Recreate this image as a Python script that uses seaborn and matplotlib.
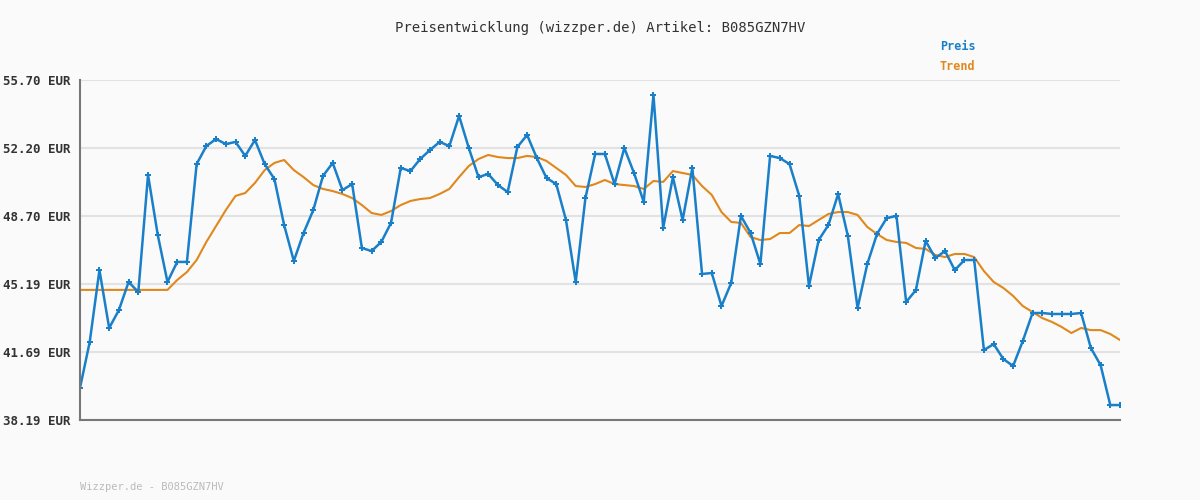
import matplotlib
matplotlib.use("Agg")
import matplotlib.pyplot as plt
import numpy as np
import pandas as pd
import seaborn as sns

# Price history (EUR)
preis = [
    39.84, 42.21, 45.91, 42.93, 43.85, 45.30, 44.78, 50.81, 47.72, 45.30,
    46.33, 46.33, 51.37, 52.30, 52.66, 52.40, 52.51, 51.79, 52.61, 51.37,
    50.60, 48.23, 46.38, 47.82, 49.00, 50.76, 51.43, 50.03, 50.34, 47.05,
    46.89, 47.36, 48.34, 51.17, 51.01, 51.63, 52.09, 52.51, 52.30, 53.85,
    52.20, 50.70, 50.86, 50.29, 49.93, 52.25, 52.87, 51.68, 50.65, 50.34,
    48.49, 45.30, 49.62, 51.89, 51.89, 50.34, 52.20, 50.91, 49.42, 54.93,
    48.08, 50.70, 48.49, 51.17, 45.71, 45.76, 44.06, 45.25, 48.70, 47.82,
    46.22, 51.79, 51.68, 51.37, 49.73, 45.09, 47.46, 48.23, 49.83, 47.67,
    43.96, 46.22, 47.77, 48.59, 48.70, 44.27, 44.88, 47.41, 46.53, 46.89,
    45.91, 46.43, 46.43, 41.79, 42.10, 41.33, 40.97, 42.26, 43.70, 43.70,
    43.65, 43.65, 43.65, 43.70, 41.90, 41.02, 38.96, 38.96,
]
trend = [44.89] * 10 + [
    45.40, 45.81, 46.43, 47.36, 48.18, 49.00, 49.73, 49.88, 50.40, 51.06,
    51.43, 51.58, 51.06, 50.70, 50.29, 50.09, 49.98, 49.83, 49.62, 49.26,
    48.85, 48.75, 48.95, 49.26, 49.47, 49.57, 49.62, 49.83, 50.09, 50.70,
    51.27, 51.63, 51.84, 51.73, 51.68, 51.68, 51.79, 51.73, 51.53, 51.17,
    50.81, 50.24, 50.19, 50.34, 50.55, 50.34, 50.29, 50.24, 50.09, 50.50,
    50.45, 51.01, 50.91, 50.81, 50.24, 49.78, 48.90, 48.39, 48.34, 47.61,
    47.46, 47.51, 47.82, 47.82, 48.23, 48.18, 48.49, 48.80, 48.90, 48.90,
    48.75, 48.13, 47.77, 47.46, 47.36, 47.31, 47.05, 47.00, 46.69, 46.58,
    46.74, 46.74, 46.58, 45.86, 45.30, 44.99, 44.58, 44.06, 43.75, 43.44,
    43.24, 42.98, 42.67, 42.93, 42.82, 42.82, 42.62, 42.31,
]
y_ticks = [38.19, 41.69, 45.19, 48.70, 52.20, 55.70]

BLUE = "#1a7fc9"
ORANGE = "#e0881c"

sns.set_style("white")
plt.rcParams["font.family"] = ["DejaVu Sans Mono"]

df = pd.DataFrame({"idx": np.arange(len(preis)), "preis": preis, "trend": trend})

fig = plt.figure(figsize=(12, 5), dpi=100, facecolor="#fafafa")
ax = fig.add_axes([80 / 1200, 80 / 500, 1040 / 1200, 340 / 500])
ax.set_facecolor("#fafafa")

sns.lineplot(data=df, x="idx", y="trend", ax=ax, color=ORANGE, lw=1.5)
sns.lineplot(data=df, x="idx", y="preis", ax=ax, color=BLUE, lw=1.8,
             marker="P", markersize=4, markeredgewidth=0)

ax.set_xlim(0, len(preis) - 1)
ax.set_ylim(y_ticks[0], y_ticks[-1])
ax.set_yticks(y_ticks)
ax.set_yticklabels([f"{v:.2f} EUR" for v in y_ticks], fontsize=9,
                   color="#333333", fontweight="bold")
ax.set_xticks([])
ax.set_xlabel("")
ax.set_ylabel("")
ax.yaxis.grid(True, color="#e2e2e2", lw=1.5)
ax.set_axisbelow(True)
ax.tick_params(axis="y", length=0, pad=7)
for s in ["top", "right"]:
    ax.spines[s].set_visible(False)
for s in ["left", "bottom"]:
    ax.spines[s].set_color("#777777")
    ax.spines[s].set_linewidth(1.5)

fig.text(0.5, 1 - 28 / 500, "Preisentwicklung (wizzper.de) Artikel: B085GZN7HV",
         ha="center", va="center", fontsize=10, color="#333333")
fig.text(940 / 1200, 1 - 47 / 500, "Preis", color=BLUE, fontsize=8.5,
         fontweight="bold", va="center")
fig.text(940 / 1200, 1 - 67 / 500, "Trend", color=ORANGE, fontsize=8.5,
         fontweight="bold", va="center")
fig.text(80 / 1200, 1 - 487 / 500, "Wizzper.de - B085GZN7HV", color="#bbbbbb",
         fontsize=7.5, va="center")

fig.savefig("out.png", dpi=100, facecolor=fig.get_facecolor())
